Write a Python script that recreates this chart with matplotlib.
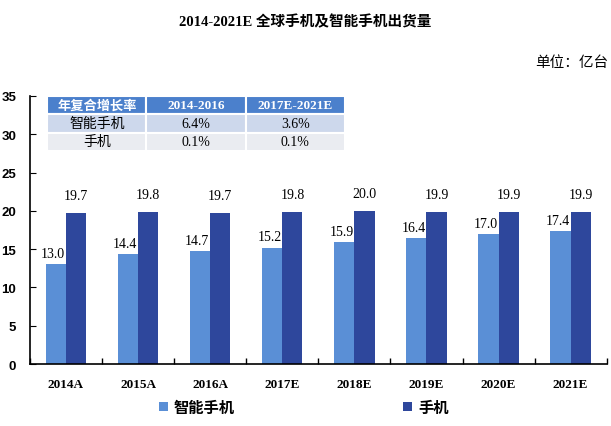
import matplotlib.pyplot as plt
import numpy as np

plt.rcParams['font.family'] = ['Liberation Serif', 'Noto Sans CJK SC']

years = ['2014A', '2015A', '2016A', '2017E', '2018E', '2019E', '2020E', '2021E']
smart = [13.0, 14.4, 14.7, 15.2, 15.9, 16.4, 17.0, 17.4]
phone = [19.7, 19.8, 19.7, 19.8, 20.0, 19.9, 19.9, 19.9]

cagr_head = ['年复合增长率', '2014-2016', '2017E-2021E']
cagr_rows = [['智能手机', '6.4%', '3.6%'],
             ['手机', '0.1%', '0.1%']]

c_smart = '#5a8fd6'
c_phone = '#2e479c'

fig = plt.figure(figsize=(6.11, 4.27), dpi=100)
ax = fig.add_axes([0.049, 0.145, 0.944, 0.628])

x = np.arange(len(years))
w = 0.28
b1 = ax.bar(x - w/2, smart, w, color=c_smart, label='智能手机')
b2 = ax.bar(x + w/2, phone, w, color=c_phone, label='手机')

for xi, v in zip(x, smart):
    ax.annotate(f'{v:.1f}', (xi - w/2, v), xytext=(-2, 3), textcoords='offset points',
                ha='center', va='bottom', fontsize=10)
for xi, v in zip(x, phone):
    ax.annotate(f'{v:.1f}', (xi + w/2, v), xytext=(0, 8), textcoords='offset points',
                ha='center', va='bottom', fontsize=10)

ax.set_xlim(-0.5, len(years) - 0.5)
ax.set_ylim(0, 35)
ax.set_yticks(range(0, 36, 5))
ax.set_xticks(x)
ax.set_xticklabels(years, fontsize=9.5, fontweight='bold')
ax.set_xticks(np.arange(-0.5, len(years), 1), minor=True)
ax.tick_params(axis='x', which='major', length=0, pad=10)
ax.tick_params(axis='x', which='minor', direction='in', length=4, width=1)
ax.tick_params(axis='y', direction='in', length=4, labelsize=9.5, pad=10)
for lab in ax.get_yticklabels():
    lab.set_fontfamily('Liberation Sans')
    lab.set_fontweight('bold')
for s in ['top', 'right']:
    ax.spines[s].set_visible(False)
for s in ['left', 'bottom']:
    ax.spines[s].set_linewidth(1.2)

# growth table
tab = ax.table(cellText=cagr_rows, colLabels=cagr_head, cellLoc='center',
               bbox=[0.03, 0.795, 0.516, 0.205])
tab.auto_set_font_size(False)
for (r, c), cell in tab.get_celld().items():
    cell.set_edgecolor('white')
    cell.set_linewidth(1.5)
    if r == 0:
        cell.set_facecolor('#4b80cc')
        cell.get_text().set_color('white')
        cell.get_text().set_fontweight('bold')
        cell.get_text().set_fontsize(9.5)
    elif r == 1:
        cell.set_facecolor('#cdd8ec')
        cell.get_text().set_fontsize(10)
    else:
        cell.set_facecolor('#eaecf1')
        cell.get_text().set_fontsize(10)

fig.text(0.5, 0.948, '2014-2021E 全球手机及智能手机出货量', ha='center', va='center',
         fontsize=10.5, fontweight='bold')
fig.text(0.995, 0.852, '单位：亿台', ha='right', va='center', fontsize=10.5)

fig.legend(handles=[b1, b2], labels=['智能手机', '手机'], loc='center',
           bbox_to_anchor=(0.497, 0.045), ncol=2, frameon=False, columnspacing=11,
           handlelength=0.6, handleheight=0.6, handletextpad=0.4,
           prop={'family': ['Noto Sans CJK SC'], 'size': 11, 'weight': 'bold'})

fig.savefig('out.png', dpi=100)
